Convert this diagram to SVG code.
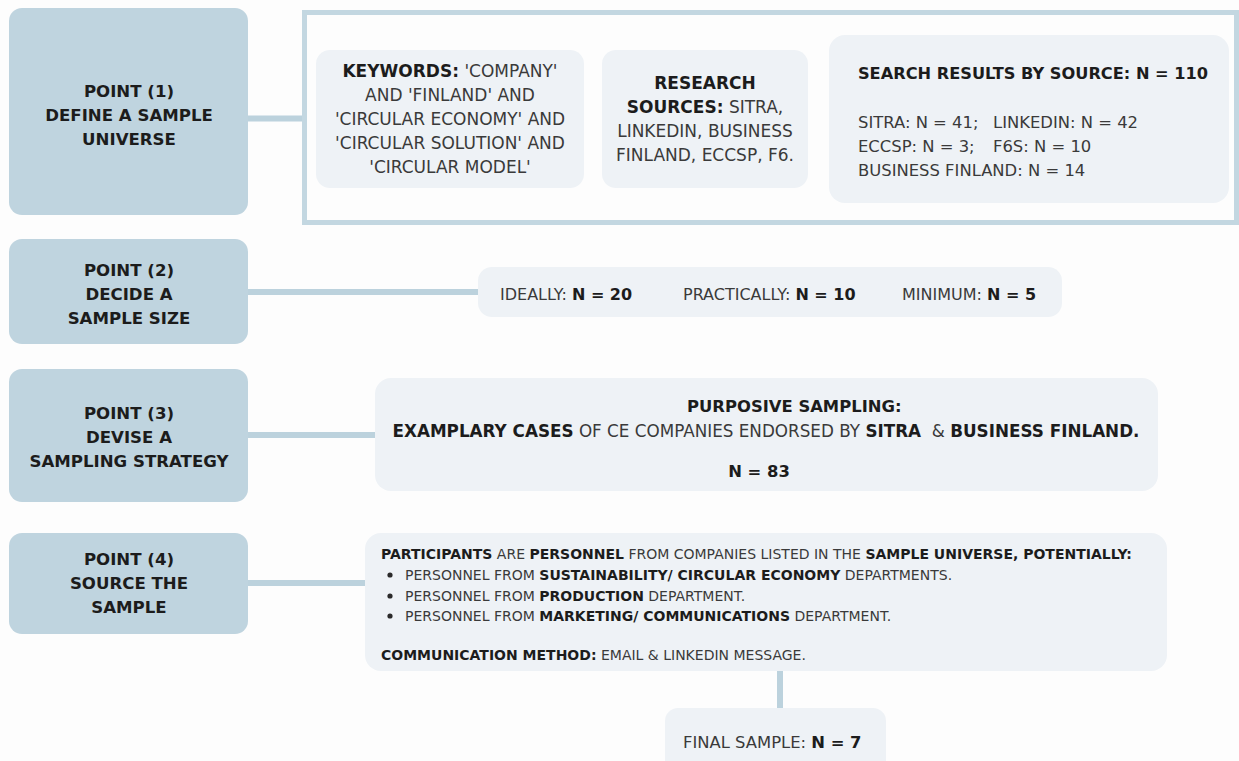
<svg xmlns="http://www.w3.org/2000/svg" width="1239" height="761" viewBox="0 0 1239 761">
<style>
.pt{fill:#bfd4df}
.cb{fill:#eef2f6}
.lbl{font-family:"DejaVu Sans","Liberation Sans",sans-serif;font-weight:bold;font-size:16.6px;fill:#1c1c1c;text-anchor:middle}
.t{font-family:"DejaVu Sans","Liberation Sans",sans-serif;fill:#3a3a3a}
.b{font-weight:bold;fill:#1c1c1c}
.c{text-anchor:middle}
.con{stroke:#bcd2dd;stroke-width:6;fill:none}
</style>
<rect width="1239" height="761" fill="#fdfdfd"/>
<g id="connectors">
<line class="con" x1="246" y1="118.5" x2="303" y2="118.5"/>
<line class="con" x1="246" y1="292" x2="480" y2="292"/>
<line class="con" x1="246" y1="435" x2="377" y2="435"/>
<line class="con" x1="246" y1="583" x2="367" y2="583"/>
<line class="con" x1="780" y1="669" x2="780" y2="710"/>
</g>
<g id="point1">
<rect class="pt" x="9" y="8" width="239" height="207" rx="13"/>
<text class="lbl"><tspan x="129" y="97">POINT (1)</tspan><tspan x="129" y="121">DEFINE A SAMPLE</tspan><tspan x="129" y="145">UNIVERSE</tspan></text>
</g>
<g id="universe-frame">
<rect x="304.5" y="12.5" width="932" height="210" fill="none" stroke="#c3d7e1" stroke-width="5"/>
</g>
<g id="keywords">
<rect class="cb" x="316" y="50" width="268" height="138" rx="14"/>
<text class="t c" font-size="17"><tspan x="450" y="77"><tspan class="b">KEYWORDS:</tspan> 'COMPANY'</tspan><tspan x="450" y="101">AND 'FINLAND' AND</tspan><tspan x="450" y="125">'CIRCULAR ECONOMY' AND</tspan><tspan x="450" y="149">'CIRCULAR SOLUTION' AND</tspan><tspan x="450" y="173">'CIRCULAR MODEL'</tspan></text>
</g>
<g id="sources">
<rect class="cb" x="602" y="50" width="206" height="138" rx="14"/>
<text class="t c" font-size="17"><tspan x="705" y="89" class="b">RESEARCH</tspan><tspan x="705" y="113"><tspan class="b">SOURCES:</tspan> SITRA,</tspan><tspan x="705" y="137">LINKEDIN, BUSINESS</tspan><tspan x="705" y="161">FINLAND, ECCSP, F6.</tspan></text>
</g>
<g id="results">
<rect class="cb" x="829" y="35" width="400" height="168" rx="16"/>
<text class="t b c" font-size="16.2" x="1033" y="79">SEARCH RESULTS BY SOURCE: N = 110</text>
<text class="t" font-size="16.4"><tspan x="858" y="128">SITRA: N = 41;</tspan><tspan x="993" y="128">LINKEDIN: N = 42</tspan><tspan x="858" y="152">ECCSP: N = 3;</tspan><tspan x="993" y="152">F6S: N = 10</tspan><tspan x="858" y="176">BUSINESS FINLAND: N = 14</tspan></text>
</g>
<g id="point2">
<rect class="pt" x="9" y="239" width="239" height="105" rx="13"/>
<text class="lbl"><tspan x="129" y="276">POINT (2)</tspan><tspan x="129" y="300">DECIDE A</tspan><tspan x="129" y="324">SAMPLE SIZE</tspan></text>
</g>
<g id="sample-size">
<rect class="cb" x="478" y="267" width="584" height="50" rx="14"/>
<text class="t" font-size="16" y="300"><tspan x="500">IDEALLY: </tspan><tspan class="b">N = 20</tspan><tspan x="683">PRACTICALLY: </tspan><tspan class="b">N = 10</tspan><tspan x="902">MINIMUM: </tspan><tspan class="b">N = 5</tspan></text>
</g>
<g id="point3">
<rect class="pt" x="9" y="369" width="239" height="133" rx="13"/>
<text class="lbl"><tspan x="129" y="419">POINT (3)</tspan><tspan x="129" y="443">DEVISE A</tspan><tspan x="129" y="467">SAMPLING STRATEGY</tspan></text>
</g>
<g id="strategy">
<rect class="cb" x="375" y="378" width="783" height="113" rx="16"/>
<text class="t b" font-size="16.4" x="687" y="412">PURPOSIVE SAMPLING:</text>
<text class="t c" font-size="16.8" x="766" y="437" xml:space="preserve"><tspan class="b">EXAMPLARY CASES</tspan> OF CE COMPANIES ENDORSED BY <tspan class="b">SITRA</tspan>  &amp; <tspan class="b">BUSINESS FINLAND.</tspan></text>
<text class="t b c" font-size="16.4" x="759" y="477">N = 83</text>
</g>
<g id="point4">
<rect class="pt" x="9" y="533" width="239" height="101" rx="13"/>
<text class="lbl"><tspan x="129" y="565">POINT (4)</tspan><tspan x="129" y="589">SOURCE THE</tspan><tspan x="129" y="613">SAMPLE</tspan></text>
</g>
<g id="participants">
<rect class="cb" x="365" y="533" width="802" height="138" rx="16"/>
<g fill="#2a2a2a"><circle cx="390" cy="575" r="2.6"/><circle cx="390" cy="596" r="2.6"/><circle cx="390" cy="616" r="2.6"/></g>
<text class="t" font-size="14"><tspan x="381" y="559"><tspan class="b">PARTICIPANTS</tspan> ARE <tspan class="b">PERSONNEL</tspan> FROM COMPANIES LISTED IN THE <tspan class="b">SAMPLE UNIVERSE, POTENTIALLY:</tspan></tspan><tspan x="405" y="580">PERSONNEL FROM <tspan class="b">SUSTAINABILITY/ CIRCULAR ECONOMY</tspan> DEPARTMENTS.</tspan><tspan x="405" y="601">PERSONNEL FROM <tspan class="b">PRODUCTION</tspan> DEPARTMENT.</tspan><tspan x="405" y="621">PERSONNEL FROM <tspan class="b">MARKETING/ COMMUNICATIONS</tspan> DEPARTMENT.</tspan><tspan x="381" y="660"><tspan class="b">COMMUNICATION METHOD:</tspan> EMAIL &amp; LINKEDIN MESSAGE.</tspan></text>
</g>
<g id="final-sample">
<rect class="cb" x="665" y="708" width="221" height="70" rx="13"/>
<text class="t" font-size="16.4" x="683" y="748">FINAL SAMPLE: <tspan class="b">N = 7</tspan></text>
</g>
</svg>
